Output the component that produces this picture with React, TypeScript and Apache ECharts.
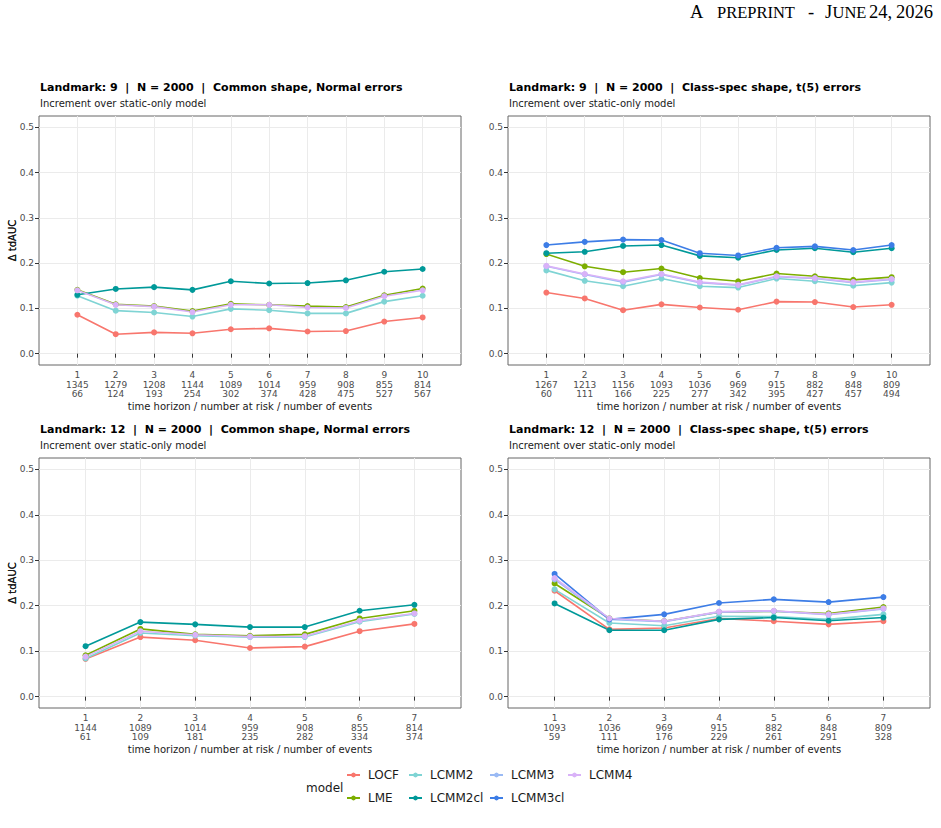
import React, { useEffect, useRef } from "react";
import * as echarts from "echarts";

// ---- data -------------------------------------------------------------
const MODELS = ["LOCF", "LME", "LCMM2", "LCMM2cl", "LCMM3", "LCMM3cl", "LCMM4"];
const MODEL_COLORS: Record<string, string> = {
  LOCF: "#F8766D",
  LME: "#7CAE00",
  LCMM2: "#7FD4D4",
  LCMM2cl: "#009999",
  LCMM3: "#9ABAF4",
  LCMM3cl: "#3D7DE6",
  LCMM4: "#D9B2F8",
};

const HORIZONS_LM9 = [1, 2, 3, 4, 5, 6, 7, 8, 9, 10];
const HORIZONS_LM12 = [1, 2, 3, 4, 5, 6, 7];
const Y_TICKS = [0, 0.1, 0.2, 0.3, 0.4, 0.5];

const RISK_LM9_COMMON = [1345, 1279, 1208, 1144, 1089, 1014, 959, 908, 855, 814];
const EVENTS_LM9_COMMON = [66, 124, 193, 254, 302, 374, 428, 475, 527, 567];
const RISK_LM9_CLASS = [1267, 1213, 1156, 1093, 1036, 969, 915, 882, 848, 809];
const EVENTS_LM9_CLASS = [60, 111, 166, 225, 277, 342, 395, 427, 457, 494];
const RISK_LM12_COMMON = [1144, 1089, 1014, 959, 908, 855, 814];
const EVENTS_LM12_COMMON = [61, 109, 181, 235, 282, 334, 374];
const RISK_LM12_CLASS = [1093, 1036, 969, 915, 882, 848, 809];
const EVENTS_LM12_CLASS = [59, 111, 176, 229, 261, 291, 328];

// Landmark 9, common shape, normal errors
const LM9_COMMON_LOCF = [0.086, 0.043, 0.047, 0.045, 0.054, 0.056, 0.049, 0.050, 0.071, 0.080];
const LM9_COMMON_LME = [0.141, 0.109, 0.105, 0.094, 0.110, 0.108, 0.105, 0.103, 0.129, 0.144];
const LM9_COMMON_LCMM2 = [0.128, 0.095, 0.091, 0.082, 0.099, 0.096, 0.089, 0.089, 0.115, 0.128];
const LM9_COMMON_LCMM2CL = [0.130, 0.143, 0.147, 0.141, 0.160, 0.155, 0.156, 0.162, 0.181, 0.187];
const LM9_COMMON_LCMM4 = [0.140, 0.108, 0.104, 0.092, 0.108, 0.108, 0.102, 0.101, 0.127, 0.140];

// Landmark 9, class-specific shape, t(5) errors
const LM9_CLASS_LOCF = [0.135, 0.122, 0.096, 0.109, 0.102, 0.097, 0.115, 0.114, 0.103, 0.108];
const LM9_CLASS_LME = [0.220, 0.193, 0.180, 0.188, 0.167, 0.160, 0.177, 0.171, 0.163, 0.169];
const LM9_CLASS_LCMM2 = [0.184, 0.161, 0.149, 0.166, 0.149, 0.146, 0.166, 0.160, 0.150, 0.157];
const LM9_CLASS_LCMM2CL = [0.222, 0.225, 0.238, 0.240, 0.216, 0.212, 0.229, 0.233, 0.224, 0.233];
const LM9_CLASS_LCMM3 = [0.193, 0.175, 0.158, 0.175, 0.157, 0.151, 0.170, 0.166, 0.157, 0.164];
const LM9_CLASS_LCMM3CL = [0.240, 0.247, 0.252, 0.251, 0.222, 0.217, 0.234, 0.237, 0.229, 0.240];
const LM9_CLASS_LCMM4 = [0.194, 0.176, 0.160, 0.176, 0.158, 0.152, 0.171, 0.167, 0.158, 0.165];

// Landmark 12, common shape, normal errors
const LM12_COMMON_LOCF = [0.083, 0.131, 0.124, 0.107, 0.110, 0.144, 0.160];
const LM12_COMMON_LME = [0.091, 0.149, 0.137, 0.134, 0.137, 0.172, 0.189];
const LM12_COMMON_LCMM2 = [0.084, 0.140, 0.134, 0.131, 0.131, 0.165, 0.182];
const LM12_COMMON_LCMM2CL = [0.111, 0.164, 0.159, 0.153, 0.153, 0.189, 0.202];
const LM12_COMMON_LCMM4 = [0.088, 0.144, 0.136, 0.132, 0.133, 0.167, 0.183];

// Landmark 12, class-specific shape, t(5) errors
const LM12_CLASS_LOCF = [0.233, 0.148, 0.151, 0.172, 0.166, 0.159, 0.166];
const LM12_CLASS_LME = [0.249, 0.172, 0.166, 0.186, 0.188, 0.183, 0.197];
const LM12_CLASS_LCMM2 = [0.236, 0.162, 0.156, 0.177, 0.176, 0.170, 0.181];
const LM12_CLASS_LCMM2CL = [0.205, 0.146, 0.146, 0.170, 0.174, 0.167, 0.174];
const LM12_CLASS_LCMM3 = [0.258, 0.170, 0.165, 0.186, 0.188, 0.180, 0.193];
const LM12_CLASS_LCMM3CL = [0.270, 0.170, 0.181, 0.206, 0.214, 0.208, 0.219];
const LM12_CLASS_LCMM4 = [0.261, 0.172, 0.166, 0.187, 0.189, 0.181, 0.194];

const SUBTITLE = "Increment over static-only model";
const X_TITLE = "time horizon / number at risk / number of events";
const Y_TITLE = "Δ tdAUC";

type Panel = {
  title: string;
  horizons: number[];
  risk: number[];
  events: number[];
  xMin: number;
  xMax: number;
  series: Record<string, number[]>;
  box: { left: number; top: number; width: number; height: number };
};

const PANELS: Panel[] = [
  {
    title: "Landmark: 9  |  N = 2000  |  Common shape, Normal errors",
    horizons: HORIZONS_LM9,
    risk: RISK_LM9_COMMON,
    events: EVENTS_LM9_COMMON,
    xMin: 0,
    xMax: 11,
    series: {
      LOCF: LM9_COMMON_LOCF,
      LME: LM9_COMMON_LME,
      LCMM2: LM9_COMMON_LCMM2,
      LCMM2cl: LM9_COMMON_LCMM2CL,
      LCMM4: LM9_COMMON_LCMM4,
    },
    box: { left: 39, top: 116, width: 422, height: 249 },
  },
  {
    title: "Landmark: 9  |  N = 2000  |  Class-spec shape, t(5) errors",
    horizons: HORIZONS_LM9,
    risk: RISK_LM9_CLASS,
    events: EVENTS_LM9_CLASS,
    xMin: 0,
    xMax: 11,
    series: {
      LOCF: LM9_CLASS_LOCF,
      LME: LM9_CLASS_LME,
      LCMM2: LM9_CLASS_LCMM2,
      LCMM2cl: LM9_CLASS_LCMM2CL,
      LCMM3: LM9_CLASS_LCMM3,
      LCMM3cl: LM9_CLASS_LCMM3CL,
      LCMM4: LM9_CLASS_LCMM4,
    },
    box: { left: 508, top: 116, width: 422, height: 249 },
  },
  {
    title: "Landmark: 12  |  N = 2000  |  Common shape, Normal errors",
    horizons: HORIZONS_LM12,
    risk: RISK_LM12_COMMON,
    events: EVENTS_LM12_COMMON,
    xMin: 0.15,
    xMax: 7.85,
    series: {
      LOCF: LM12_COMMON_LOCF,
      LME: LM12_COMMON_LME,
      LCMM2: LM12_COMMON_LCMM2,
      LCMM2cl: LM12_COMMON_LCMM2CL,
      LCMM4: LM12_COMMON_LCMM4,
    },
    box: { left: 39, top: 458, width: 422, height: 250 },
  },
  {
    title: "Landmark: 12  |  N = 2000  |  Class-spec shape, t(5) errors",
    horizons: HORIZONS_LM12,
    risk: RISK_LM12_CLASS,
    events: EVENTS_LM12_CLASS,
    xMin: 0.15,
    xMax: 7.85,
    series: {
      LOCF: LM12_CLASS_LOCF,
      LME: LM12_CLASS_LME,
      LCMM2: LM12_CLASS_LCMM2,
      LCMM2cl: LM12_CLASS_LCMM2CL,
      LCMM3: LM12_CLASS_LCMM3,
      LCMM3cl: LM12_CLASS_LCMM3CL,
      LCMM4: LM12_CLASS_LCMM4,
    },
    box: { left: 508, top: 458, width: 422, height: 250 },
  },
];

const FONT = "DejaVu Sans";
const SERIF = "Liberation Serif";
const TICK_GREY = "#4D4D4D";
const GRID_GREY = "#EBEBEB";

// Running header pieces: full-size capitals and small capitals.
const HEADER_PARTS: { text: string; x: number; small: boolean; align: string }[] = [
  { text: "A", x: 690, small: false, align: "left" },
  { text: "PREPRINT", x: 717, small: true, align: "left" },
  { text: "-", x: 808, small: false, align: "left" },
  { text: "J", x: 825, small: false, align: "left" },
  { text: "UNE", x: 832.5, small: true, align: "left" },
  { text: "24,", x: 869, small: false, align: "left" },
  { text: "2026", x: 933, small: false, align: "right" },
];

function buildOption() {
  const grid: any[] = [];
  const xAxis: any[] = [];
  const yAxis: any[] = [];
  const series: any[] = [];
  const graphic: any[] = [];

  PANELS.forEach((p, i) => {
    grid.push({
      left: p.box.left,
      top: p.box.top,
      width: p.box.width,
      height: p.box.height,
      containLabel: false,
      show: true,
      backgroundColor: "#fff",
      borderColor: "#666",
      borderWidth: 1,
    });
    xAxis.push({
      type: "value",
      gridIndex: i,
      min: p.xMin,
      max: p.xMax,
      axisLine: { show: false },
      axisTick: {
        show: true,
        length: 4,
        customValues: p.horizons,
        lineStyle: { color: "#333", width: 1 },
      },
      splitLine: { show: true, lineStyle: { color: GRID_GREY, width: 1 } },
      axisLabel: {
        customValues: p.horizons,
        margin: 5,
        color: TICK_GREY,
        fontFamily: FONT,
        fontSize: 9,
        lineHeight: 9.7,
        formatter: (v: number) => {
          const k = p.horizons.indexOf(v);
          return `${v}\n${p.risk[k]}\n${p.events[k]}`;
        },
      },
    });
    yAxis.push({
      type: "value",
      gridIndex: i,
      min: -0.025,
      max: 0.525,
      axisLine: { show: false },
      axisTick: {
        show: true,
        length: 4,
        customValues: Y_TICKS,
        lineStyle: { color: "#333", width: 1 },
      },
      splitLine: { show: true, lineStyle: { color: GRID_GREY, width: 1 } },
      axisLabel: {
        customValues: Y_TICKS,
        margin: 5,
        color: TICK_GREY,
        fontFamily: FONT,
        fontSize: 9,
        formatter: (v: number) => v.toFixed(1),
      },
    });

    MODELS.forEach((m) => {
      const vals = p.series[m];
      if (!vals) return;
      series.push({
        name: m,
        type: "line",
        xAxisIndex: i,
        yAxisIndex: i,
        data: p.horizons.map((h, k) => [h, vals[k]]),
        symbol: "circle",
        symbolSize: 6,
        showSymbol: true,
        color: MODEL_COLORS[m],
        lineStyle: { width: 1.6, color: MODEL_COLORS[m] },
        itemStyle: { color: MODEL_COLORS[m] },
        emphasis: { disabled: true },
        silent: true,
      });
    });

    const cx = p.box.left + p.box.width / 2;
    const titleY = p.box.top - 29;
    graphic.push(
      {
        type: "text",
        x: p.box.left + 1,
        y: titleY,
        style: {
          text: p.title,
          fontFamily: FONT,
          fontWeight: "bold",
          fontSize: 11,
          fill: "#000",
          align: "left",
          verticalAlign: "middle",
        },
      },
      {
        type: "text",
        x: p.box.left + 1,
        y: titleY + 16.5,
        style: {
          text: SUBTITLE,
          fontFamily: FONT,
          fontSize: 10,
          fill: "#1A1A1A",
          align: "left",
          verticalAlign: "middle",
        },
      },
      {
        type: "text",
        x: cx,
        y: p.box.top + p.box.height + 41.5,
        style: {
          text: X_TITLE,
          fontFamily: FONT,
          fontSize: 10,
          fill: "#1A1A1A",
          align: "center",
          verticalAlign: "middle",
        },
      },
      {
        type: "text",
        x: 12,
        y: p.box.top + p.box.height / 2,
        rotation: Math.PI / 2,
        style: {
          text: Y_TITLE,
          fontFamily: FONT,
          fontSize: 10,
          fill: "#1A1A1A",
          align: "center",
          verticalAlign: "middle",
        },
      }
    );
  });

  // legend "model" heading
  graphic.push({
    type: "text",
    x: 306,
    y: 788,
    style: {
      text: "model",
      fontFamily: FONT,
      fontSize: 12,
      fill: "#1A1A1A",
      align: "left",
      verticalAlign: "middle",
    },
  });

  // running header, small caps emulated with a smaller face
  HEADER_PARTS.forEach((h) => {
    graphic.push({
      type: "text",
      x: h.x,
      y: h.small ? 12.9 : 12.4,
      style: {
        text: h.text,
        fontFamily: SERIF,
        fontSize: h.small ? 16.5 : 18.5,
        fill: "#000",
        align: h.align,
        verticalAlign: "middle",
      },
    });
  });

  // legend entries laid out in two rows
  const legendPos: Record<string, [number, number]> = {
    LOCF: [346, 776],
    LME: [346, 799],
    LCMM2: [408, 776],
    LCMM2cl: [408, 799],
    LCMM3: [489, 776],
    LCMM3cl: [489, 799],
    LCMM4: [567, 776],
  };
  const legend = MODELS.map((m) => ({
    data: [m],
    left: legendPos[m][0],
    top: legendPos[m][1] - 7,
    orient: "horizontal",
    itemWidth: 13,
    itemHeight: 6,
    padding: 0,
    selectedMode: false,
    textStyle: {
      fontFamily: FONT,
      fontSize: 12,
      color: "#1A1A1A",
      padding: [0, 0, 0, 3],
    },
  }));

  return {
    animation: false,
    backgroundColor: "#fff",
    textStyle: { fontFamily: FONT },
    grid,
    xAxis,
    yAxis,
    series,
    legend,
    graphic,
  };
}

export default function App() {
  const ref = useRef<HTMLDivElement>(null);
  useEffect(() => {
    if (!ref.current) return;
    const chart = echarts.init(ref.current, undefined, { renderer: "svg" });
    chart.setOption(buildOption() as any);
    return () => chart.dispose();
  }, []);
  return (
    <div
      ref={ref}
      style={{ position: "absolute", left: 0, top: 0, width: 941, height: 828 }}
    />
  );
}
